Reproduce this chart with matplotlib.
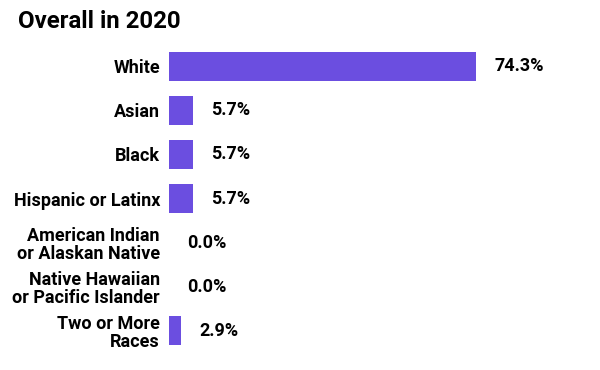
import matplotlib.pyplot as plt

# Data
categories = [
    "White",
    "Asian",
    "Black",
    "Hispanic or Latinx",
    "American Indian\nor Alaskan Native",
    "Native Hawaiian\nor Pacific Islander",
    "Two or More\nRaces",
]
shares = [74.3, 5.7, 5.7, 5.7, 0.0, 0.0, 2.9]
value_labels = ["74.3%", "5.7%", "5.7%", "5.7%", "0.0%", "0.0%", "2.9%"]

plt.rcParams['font.family'] = ['Roboto', 'DejaVu Sans']

fig = plt.figure(figsize=(6, 3.7), dpi=100)
ax = fig.add_axes([169 / 600, 1 - 353 / 370, 431 / 600, 309 / 370])

ypos = list(range(len(categories)))
ax.barh(ypos, shares, height=0.66, color="#6b4ee0")

for y, v, lab in zip(ypos, shares, value_labels):
    ax.annotate(lab, xy=(v, y), xytext=(13, 0), textcoords="offset points",
                va="center", ha="left", fontsize=13, fontweight="bold", color="black")

ax.set_xlim(0, 104.3)
ax.set_ylim(len(categories) - 0.5, -0.5)
ax.set_yticks(ypos)
ax.set_yticklabels(categories, fontsize=13, fontweight="bold", linespacing=1.0)
ax.tick_params(axis="y", length=0, pad=6.5)
ax.set_xticks([])
for s in ax.spines.values():
    s.set_visible(False)

fig.text(18 / 600, 1 - 22 / 370, "Overall in 2020", fontsize=17.3, fontweight="bold",
         ha="left", va="center")

fig.savefig("out.png", dpi=100)
plt.close(fig)
